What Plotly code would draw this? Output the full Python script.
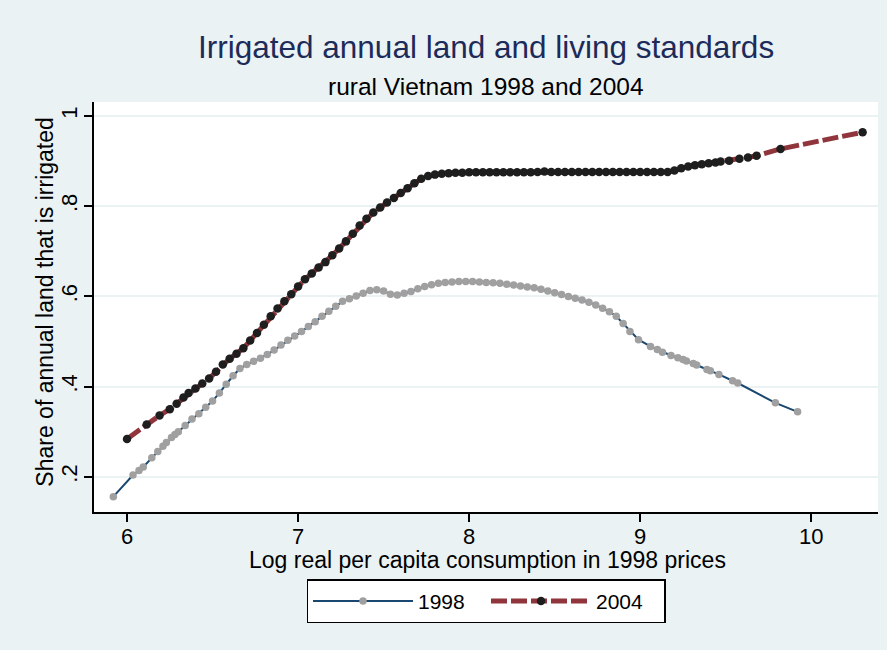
import plotly.graph_objects as go

# ---------------- data ----------------
x_1998 = [5.92, 6.035, 6.07, 6.095, 6.145, 6.18, 6.21, 6.23, 6.26, 6.28,
          6.30, 6.34, 6.38, 6.42, 6.46, 6.50, 6.54, 6.58, 6.62, 6.66,
          6.70, 6.74, 6.78, 6.82, 6.86, 6.90, 6.94, 6.98, 7.02, 7.06,
          7.10, 7.14, 7.18, 7.22, 7.26, 7.30, 7.34, 7.38, 7.42, 7.46,
          7.50, 7.54, 7.58, 7.62, 7.66, 7.70, 7.74, 7.78, 7.82, 7.86,
          7.90, 7.94, 7.98, 8.02, 8.06, 8.10, 8.14, 8.18, 8.22, 8.26,
          8.30, 8.34, 8.38, 8.42, 8.46, 8.50, 8.54, 8.58, 8.62, 8.66,
          8.70, 8.74, 8.78, 8.82, 8.86, 8.90, 8.94,
          8.99, 9.06, 9.10, 9.13, 9.18, 9.22, 9.25, 9.27, 9.31, 9.33,
          9.39, 9.41, 9.46, 9.54, 9.57, 9.79, 9.92]
y_1998 = [0.156, 0.204, 0.214, 0.222, 0.242, 0.256, 0.268, 0.276, 0.287, 0.294,
          0.300, 0.314, 0.328, 0.340, 0.354, 0.368, 0.386, 0.405, 0.424, 0.440,
          0.449, 0.456, 0.463, 0.471, 0.481, 0.492, 0.503, 0.512, 0.522, 0.533,
          0.544, 0.556, 0.567, 0.578, 0.589, 0.595, 0.601, 0.607, 0.613, 0.615,
          0.612, 0.605, 0.603, 0.607, 0.611, 0.617, 0.622, 0.626, 0.629, 0.631,
          0.632, 0.633, 0.633, 0.633, 0.632, 0.631, 0.630, 0.629, 0.627, 0.625,
          0.623, 0.621, 0.619, 0.616, 0.612, 0.608, 0.604, 0.600, 0.596, 0.592,
          0.587, 0.581, 0.574, 0.566, 0.556, 0.540, 0.522,
          0.504, 0.489, 0.482, 0.476, 0.469, 0.464, 0.460, 0.457, 0.451, 0.448,
          0.438, 0.435, 0.427, 0.413, 0.408, 0.364, 0.344]

x_2004 = [6.00, 6.115, 6.19, 6.25, 6.29, 6.33, 6.36, 6.40,
          6.44, 6.48, 6.52, 6.56, 6.60, 6.64, 6.68, 6.72, 6.76, 6.80,
          6.84, 6.88, 6.92, 6.96, 7.00, 7.04, 7.08, 7.12, 7.16, 7.20,
          7.24, 7.28, 7.32, 7.36, 7.40, 7.44, 7.48, 7.52, 7.56, 7.60,
          7.64, 7.68, 7.72, 7.76, 7.80, 7.84, 7.88, 7.92, 7.96, 8.00,
          8.04, 8.08, 8.12, 8.16, 8.20, 8.24, 8.28, 8.32, 8.36, 8.40,
          8.44, 8.48, 8.52, 8.56, 8.60, 8.64, 8.68, 8.72, 8.76, 8.80,
          8.84, 8.88, 8.92, 8.96, 9.00, 9.04, 9.08, 9.12, 9.16,
          9.20, 9.24, 9.28, 9.32, 9.36, 9.40, 9.44, 9.47, 9.52, 9.58,
          9.63, 9.68, 9.82, 10.30]
y_2004 = [0.284, 0.316, 0.336, 0.350, 0.362, 0.376, 0.386, 0.396,
          0.407, 0.418, 0.433, 0.449, 0.462, 0.473, 0.485, 0.502, 0.519, 0.537,
          0.556, 0.573, 0.589, 0.605, 0.622, 0.638, 0.651, 0.664, 0.676, 0.691,
          0.706, 0.722, 0.739, 0.757, 0.772, 0.786, 0.797, 0.808, 0.818, 0.829,
          0.840, 0.851, 0.861, 0.867, 0.870, 0.872, 0.873, 0.874, 0.874, 0.875,
          0.875, 0.875, 0.875, 0.875, 0.875, 0.875, 0.875, 0.875, 0.875, 0.876,
          0.877, 0.876, 0.876, 0.876, 0.876, 0.876, 0.876, 0.876, 0.876, 0.876,
          0.876, 0.876, 0.876, 0.876, 0.876, 0.876, 0.876, 0.876, 0.876,
          0.879, 0.884, 0.888, 0.891, 0.893, 0.895, 0.897, 0.899, 0.901, 0.905,
          0.908, 0.912, 0.927, 0.964]

x_ticks = [6, 7, 8, 9, 10]
x_ticktext = ["6", "7", "8", "9", "10"]
y_ticks = [0.2, 0.4, 0.6, 0.8, 1.0]
y_ticktext = [".2", ".4", ".6", ".8", "1"]

title_text = "Irrigated annual land and living standards"
subtitle_text = "rural Vietnam 1998 and 2004"
x_title = "Log real per capita consumption in 1998 prices"
y_title = "Share of annual land that is irrigated"

# ---------------- figure ----------------
FONT = "Liberation Sans, Arial, Helvetica, sans-serif"
BG = "#EAF2F3"

fig = go.Figure()
fig.add_trace(go.Scatter(
    x=x_1998, y=y_1998, name="1998", mode="lines+markers",
    line=dict(color="#1A476F", width=2),
    marker=dict(color="#A0A0A0", size=7.5, line=dict(width=0)),
))
fig.add_trace(go.Scatter(
    x=x_2004, y=y_2004, name="2004", mode="lines+markers",
    line=dict(color="#90353B", width=5, dash="16px,4px"),
    marker=dict(color="#1E1E1E", size=8.5, line=dict(width=0)),
))

fig.update_layout(
    width=887, height=650,
    paper_bgcolor=BG, plot_bgcolor="white",
    margin=dict(l=94, r=9, t=102, b=138),
    font=dict(family=FONT, color="black", size=22),
    showlegend=True,
    legend=dict(
        orientation="h", x=0.5, xanchor="center", y=-0.164, yanchor="top",
        bgcolor="white", bordercolor="black", borderwidth=1.5,
        font=dict(size=21, family=FONT), itemwidth=100, entrywidth=63,
    ),
    annotations=[
        dict(text=title_text, x=0.5, y=1.134, xref="paper", yref="paper",
             xanchor="center", yanchor="middle", showarrow=False,
             font=dict(size=31.5, color="#1C2B5A", family=FONT)),
        dict(text=subtitle_text, x=0.5, y=1.037, xref="paper", yref="paper",
             xanchor="center", yanchor="middle", showarrow=False,
             font=dict(size=24.5, color="black", family=FONT)),
        dict(text=x_title, x=0.502, y=-0.117, xref="paper", yref="paper",
             xanchor="center", yanchor="middle", showarrow=False,
             font=dict(size=23, color="black", family=FONT)),
        dict(text=y_title, x=-0.0625, y=0.513, xref="paper", yref="paper",
             xanchor="center", yanchor="middle", showarrow=False, textangle=-90,
             font=dict(size=23, color="black", family=FONT)),
    ],
)

fig.update_xaxes(
    range=[5.807, 10.39], tickvals=x_ticks, ticktext=x_ticktext,
    showgrid=False, zeroline=False, showline=True, linecolor="black", linewidth=2,
    ticks="outside", ticklen=8, tickwidth=2, tickcolor="black",
    tickfont=dict(size=22, family=FONT), ticklabelstandoff=-4,
)
fig.update_yaxes(
    range=[0.122, 1.031], tickvals=y_ticks, ticktext=y_ticktext, tickangle=-90,
    showgrid=True, gridcolor=BG, gridwidth=1.5, zeroline=False,
    showline=True, linecolor="black", linewidth=2,
    ticks="outside", ticklen=8, tickwidth=2, tickcolor="black",
    tickfont=dict(size=22, family=FONT), ticklabelstandoff=-2,
)

fig.write_html(
    "out.html",
    config={"displayModeBar": False},
    post_script="document.body.style.margin='0';document.body.style.background='%s';" % BG,
)
